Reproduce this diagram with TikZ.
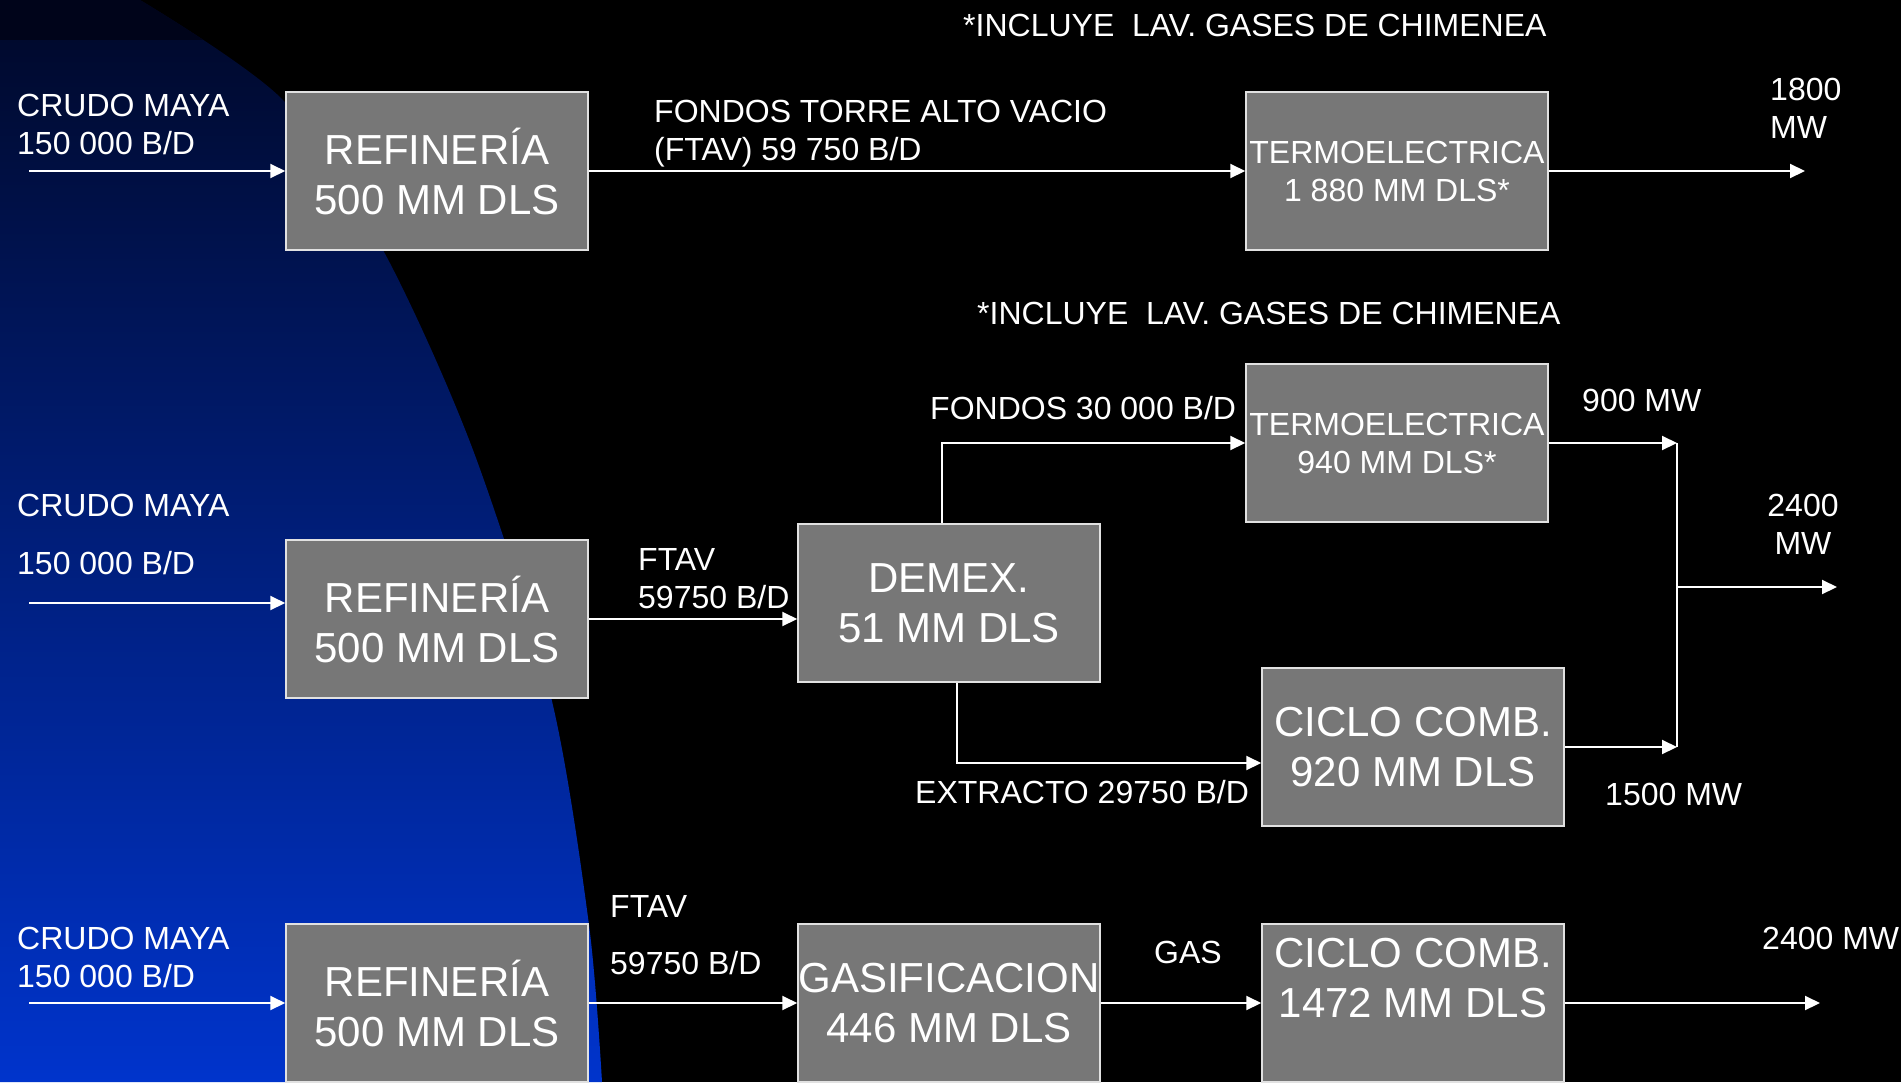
\documentclass[tikz,border=0pt]{standalone}
\usepackage{fontspec}
\setmainfont{Liberation Sans}
\usetikzlibrary{arrows.meta,positioning}

\definecolor{boxgray}{RGB}{119,119,119}
\definecolor{boxline}{RGB}{225,225,225}
\definecolor{navytop}{RGB}{0,8,40}
\definecolor{navymid}{RGB}{0,30,120}
\definecolor{navybot}{RGB}{0,52,204}
\definecolor{navyband}{RGB}{0,4,26}

\tikzset{
  block/.style={draw=boxline, line width=1.5pt, fill=boxgray, text=white,
    minimum width=302pt, minimum height=158pt, inner sep=0pt, align=center,
    font=\fontsize{42}{50}\selectfont},
  termo/.style={block, font=\fontsize{32}{38}\selectfont},
  lbl/.style={text=white, inner sep=0pt, anchor=base west, align=left,
    font=\fontsize{32}{38}\selectfont},
  link/.style={draw=white, line width=2pt},
  flow/.style={link, -{Triangle[length=15pt,width=14pt]}},
}

\begin{document}
\begin{tikzpicture}[x=1pt,y=-1pt]
    \useasboundingbox (0,0) rectangle (1901,1082);
    \fill[black] (0,0) rectangle (1901,1082);

    % blue background
    \begin{scope}
        \path[clip] (0,0) -- plot[smooth] coordinates {(140,0) (283,100) (383,250) (473,450) (551,697) (589,925) (602,1082)} -- (0,1082) -- cycle;
        \shade[top color=navytop, middle color=navymid, bottom color=navybot] (0,0) rectangle (700,1082);
        \fill[navyband] (0,0) rectangle (700,40);
    \end{scope}

    % first row
    \node[block] (ref1) at (437,171) {REFINERÍA\\500 MM DLS};
    \node[termo] (termo1) at (1397,171) {TERMOELECTRICA\\1 880 MM DLS*};
    \coordinate (in1) at (29,171);
    \coordinate (out1) at (1805,171);
    \node[lbl] (crudo1) at (17,154) {CRUDO MAYA\\150 000 B/D};
    \node[lbl] (fondos1) at (654,160) {FONDOS TORRE ALTO VACIO\\(FTAV) 59 750 B/D};
    \node[lbl] (nota1) at (963,36) {*INCLUYE\ \ LAV. GASES DE CHIMENEA};
    \node[lbl] (mw1) at (1770,138) {1800\\MW};
    \draw[flow] (in1) -- (ref1);
    \draw[flow] (ref1) -- (termo1);
    \draw[flow] (termo1) -- (out1);

    % second row
    \node[block] (ref2) at (437,619) {REFINERÍA\\500 MM DLS};
    \node[block] (demex) at (949,603) {DEMEX.\\51 MM DLS};
    \node[termo] (termo2) at (1397,443) {TERMOELECTRICA\\940 MM DLS*};
    \node[block] (ciclo2) at (1413,747) {CICLO COMB.\\920 MM DLS};
    \coordinate (in2) at (29,603);
    \coordinate (jtop) at (1677,443);
    \coordinate (jbot) at (1677,747);
    \coordinate (jmid) at (1677,587);
    \coordinate (out2) at (1837,587);
    \node[lbl] (crudo2) at (17,574) {CRUDO MAYA\\[20pt]150 000 B/D};
    \node[lbl] (ftav2) at (638,608) {FTAV\\59750 B/D};
    \node[lbl] (nota2) at (977,324) {*INCLUYE\ \ LAV. GASES DE CHIMENEA};
    \node[lbl] (fondos2) at (930,419) {FONDOS 30 000 B/D};
    \node[lbl] (extracto) at (915,803) {EXTRACTO 29750 B/D};
    \node[lbl] (mw900) at (1582,411) {900 MW};
    \node[lbl] (mw1500) at (1605,805) {1500 MW};
    \node[lbl, anchor=base, align=center] (mw2) at (1803,554) {2400\\MW};
    \draw[flow] (in2) -- (in2 -| ref2.west);
    \draw[flow] (ref2.east) -- (ref2.east -| demex.west);
    \draw[flow] ([xshift=-7pt]demex.north) |- (termo2);
    \draw[flow] ([xshift=8pt]demex.south) |- ([yshift=-16pt]ciclo2.west);
    \draw[flow] (termo2) -- (jtop);
    \draw[flow] (ciclo2) -- (jbot);
    \draw[link] (jtop) -- (jbot);
    \draw[flow] (jmid) -- (out2);

    % third row
    \node[block] (ref3) at (437,1003) {REFINERÍA\\500 MM DLS};
    \node[block] (gasif) at (949,1003) {GASIFICACION\\446 MM DLS};
    \node[block] (ciclo3) at (1413,1003) {CICLO COMB.\\1472 MM DLS\\\mbox{}};
    \coordinate (in3) at (29,1003);
    \coordinate (out3) at (1820,1003);
    \node[lbl] (crudo3) at (17,987) {CRUDO MAYA\\150 000 B/D};
    \node[lbl] (ftav3) at (610,974) {FTAV\\[19pt]59750 B/D};
    \node[lbl] (gas) at (1154,963) {GAS};
    \node[lbl] (mw3) at (1762,949) {2400 MW};
    \draw[flow] (in3) -- (ref3);
    \draw[flow] (ref3) -- (gasif);
    \draw[flow] (gasif) -- (ciclo3);
    \draw[flow] (ciclo3) -- (out3);
\end{tikzpicture}
\end{document}
